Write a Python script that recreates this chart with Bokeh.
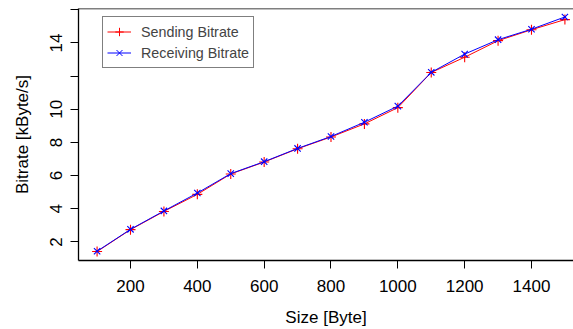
from bokeh.plotting import figure
from bokeh.models import FixedTicker, Range1d, Legend, LegendItem, Span
from bokeh.embed import file_html
from bokeh.resources import INLINE

# ---- data ----
sizes = [100, 200, 300, 400, 500, 600, 700, 800, 900, 1000, 1100, 1200, 1300, 1400, 1500]
sending = [1.42, 2.74, 3.84, 4.87, 6.10, 6.82, 7.62, 8.33, 9.12, 10.10, 12.22, 13.14, 14.14, 14.80, 15.41]
receiving = [1.44, 2.76, 3.87, 4.95, 6.12, 6.84, 7.64, 8.36, 9.22, 10.19, 12.23, 13.33, 14.20, 14.83, 15.57]
x_ticks = [200, 400, 600, 800, 1000, 1200, 1400]
y_ticks = [2, 4, 6, 8, 10, 12, 14, 16]
y_hidden_labels = [12, 16]
X_START, X_END = 44.4, 1525.7
Y_START, Y_END = 0.88, 16.08
NAN = [float("nan")]  # legend-only renderers draw nothing in the plot

FONT = "Liberation Sans"

p = figure(width=573, height=329, output_backend="svg", toolbar_location=None,
           x_range=Range1d(X_START, X_END), y_range=Range1d(Y_START, Y_END),
           min_border_left=78, min_border_right=0, min_border_top=8, min_border_bottom=67)
p.outline_line_color = None
p.background_fill_color = "white"
p.border_fill_color = "white"
p.xgrid.visible = False
p.ygrid.visible = False

# top border of the box
p.add_layout(Span(location=Y_END, dimension="width", line_color="black", line_width=1.3))

for ax in (p.xaxis[0], p.yaxis[0]):
    ax.axis_line_color = "black"
    ax.axis_line_width = 1.3
    ax.major_tick_line_color = "black"
    ax.major_tick_out = 8
    ax.major_tick_in = 0
    ax.minor_tick_line_color = None
    ax.major_label_text_font = FONT
    ax.major_label_text_font_size = "17px"
    ax.major_label_text_color = "black"
    ax.axis_label_text_font = FONT
    ax.axis_label_text_font_size = "17px"
    ax.axis_label_text_font_style = "normal"
    ax.axis_label_text_color = "black"

p.xaxis[0].ticker = FixedTicker(ticks=x_ticks)
p.xaxis[0].axis_label = "Size [Byte]"
p.xaxis[0].major_label_standoff = 11
p.xaxis[0].axis_label_standoff = 13

p.yaxis[0].ticker = FixedTicker(ticks=y_ticks)
p.yaxis[0].major_label_overrides = {t: "" for t in y_hidden_labels}
p.yaxis[0].major_label_orientation = "parallel"
p.yaxis[0].axis_label = "Bitrate [kByte/s]"
p.yaxis[0].major_label_standoff = 8
p.yaxis[0].axis_label_standoff = 16

p.line(sizes, sending, line_color="red", line_width=1)
p.scatter(sizes, sending, marker="cross", size=10, line_color="red", line_width=1.1)
p.line(sizes, receiving, line_color="blue", line_width=1)
p.scatter(sizes, receiving, marker="x", size=9, line_color="blue", line_width=1.1)

# legend-only renderers (smaller symbols, as in the original legend)
lg1 = p.line(NAN, NAN, line_color="red", line_width=1)
lm1 = p.scatter(NAN, NAN, marker="cross", size=7, line_color="red", line_width=1)
lg2 = p.line(NAN, NAN, line_color="blue", line_width=1)
lm2 = p.scatter(NAN, NAN, marker="x", size=6, line_color="blue", line_width=1)

legend = Legend(items=[LegendItem(label="Sending Bitrate", renderers=[lg1, lm1]),
                       LegendItem(label="Receiving Bitrate", renderers=[lg2, lm2])],
                location=(24, 192), padding=4, spacing=0, margin=0,
                label_height=21, glyph_height=21, glyph_width=24, label_standoff=10,
                label_width=100,
                label_text_font=FONT, label_text_font_size="14.3px",
                border_line_color="black", border_line_width=1.3,
                background_fill_color="white", background_fill_alpha=1)
p.add_layout(legend)

open("out.html", "w").write(file_html(p, INLINE))
